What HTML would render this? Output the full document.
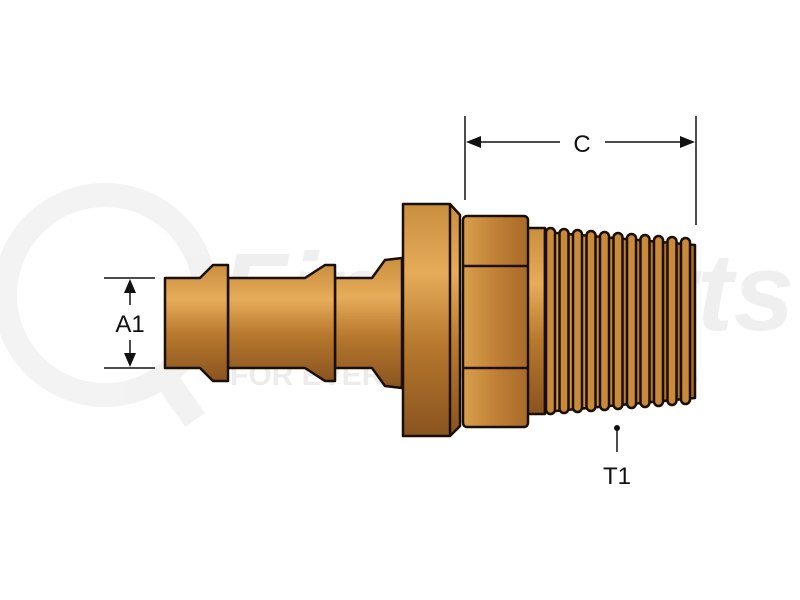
<!DOCTYPE html>
<html><head><style>html,body{margin:0;padding:0;background:#fff;width:800px;height:600px;overflow:hidden}</style></head>
<body>
<svg width="800" height="600" viewBox="0 0 800 600" xmlns="http://www.w3.org/2000/svg" font-family="Liberation Sans, sans-serif">
<defs>
<linearGradient id="g" x1="0" y1="0" x2="0" y2="1">
<stop offset="0" stop-color="#c98f3e"/><stop offset="0.3" stop-color="#e6ac5a"/><stop offset="0.6" stop-color="#b8792e"/><stop offset="1" stop-color="#8a5420"/>
</linearGradient>
<linearGradient id="h" x1="0" y1="0" x2="1" y2="0">
<stop offset="0" stop-color="#d9a04c"/><stop offset="0.5" stop-color="#c08036"/><stop offset="1" stop-color="#a86a28"/>
</linearGradient>
</defs>
<!-- watermark -->
<g opacity="0.07" fill="none" stroke="#555" stroke-width="24">
<circle cx="105" cy="295" r="100"/>
<line x1="160" y1="370" x2="195" y2="420"/>
</g>
<text x="220" y="330" font-size="110" font-weight="bold" font-style="italic" fill="#000" opacity="0.06">FindItParts</text>
<text x="230" y="385" font-size="30" font-weight="bold" fill="#000" opacity="0.07">FOR EVERYTHING THAT MOVES</text>
<g stroke="#1a0f05" stroke-width="2.5" stroke-linejoin="round" fill="url(#g)">
<path d="M402,258 L385,260 L372,278 L335,278 L335,368 L372,368 L385,386 L402,388 Z"/>
<path d="M335,265 L325,265 L305,278 L228,278 L228,368 L305,368 L325,381 L335,381 Z"/>
<path d="M228,265 L213,265 L200,278 L165,278 L165,368 L200,368 L213,381 L228,381 Z"/>
<path d="M403,204 L450,204 L460,215 L460,426 L450,436 L403,436 Z"/>
<line x1="450" y1="204" x2="450" y2="436"/>
<rect x="527" y="228" width="18" height="186"/>
<path d="M545,232 L695,245 L695,398 L545,412 Z" fill="url(#h)"/>
</g>
<g stroke="#1a0f05" stroke-width="2.5" fill="#c98a3c">
<rect x="546" y="228" width="9" height="186" rx="4.5"/>
<rect x="559.5" y="229" width="9" height="184" rx="4.5"/>
<rect x="573" y="230" width="9" height="182" rx="4.5"/>
<rect x="586.5" y="231" width="9" height="180" rx="4.5"/>
<rect x="600" y="232" width="9" height="178" rx="4.5"/>
<rect x="613.5" y="233" width="9" height="176" rx="4.5"/>
<rect x="627" y="234" width="9" height="174" rx="4.5"/>
<rect x="640.5" y="235" width="9" height="172" rx="4.5"/>
<rect x="654" y="236" width="9" height="170" rx="4.5"/>
<rect x="667.5" y="237" width="9" height="168" rx="4.5"/>
<rect x="681" y="238" width="9" height="166" rx="4.5"/>
</g>
<g stroke="#1a0f05" stroke-width="2.5" stroke-linejoin="round" fill="url(#h)">
<rect x="463" y="216" width="65" height="211" rx="4"/>
<line x1="463" y1="266" x2="528" y2="266"/>
<line x1="463" y1="368" x2="528" y2="368"/>
</g>
<g stroke="#111" stroke-width="1.5" fill="#111">
<line x1="104" y1="278" x2="155" y2="278"/>
<line x1="104" y1="368" x2="155" y2="368"/>
<line x1="130" y1="290" x2="130" y2="305"/>
<line x1="130" y1="340" x2="130" y2="356"/>
<path d="M130,279 L124,293 L136,293 Z" stroke="none"/>
<path d="M130,367 L124,353 L136,353 Z" stroke="none"/>
<line x1="465" y1="116" x2="465" y2="200"/>
<line x1="696" y1="116" x2="696" y2="225"/>
<line x1="478" y1="142" x2="560" y2="142"/>
<line x1="605" y1="142" x2="684" y2="142"/>
<path d="M466,142 L481,136 L481,148 Z" stroke="none"/>
<path d="M695,142 L680,136 L680,148 Z" stroke="none"/>
<circle cx="617" cy="428" r="3" stroke="none"/>
<line x1="617" y1="428" x2="617" y2="452"/>
</g>
<text x="130" y="332" font-size="24" text-anchor="middle" fill="#111">A1</text>
<text x="582" y="152" font-size="24" text-anchor="middle" fill="#111">C</text>
<text x="617" y="484" font-size="24" text-anchor="middle" fill="#111">T1</text>
</svg>
</body></html>
